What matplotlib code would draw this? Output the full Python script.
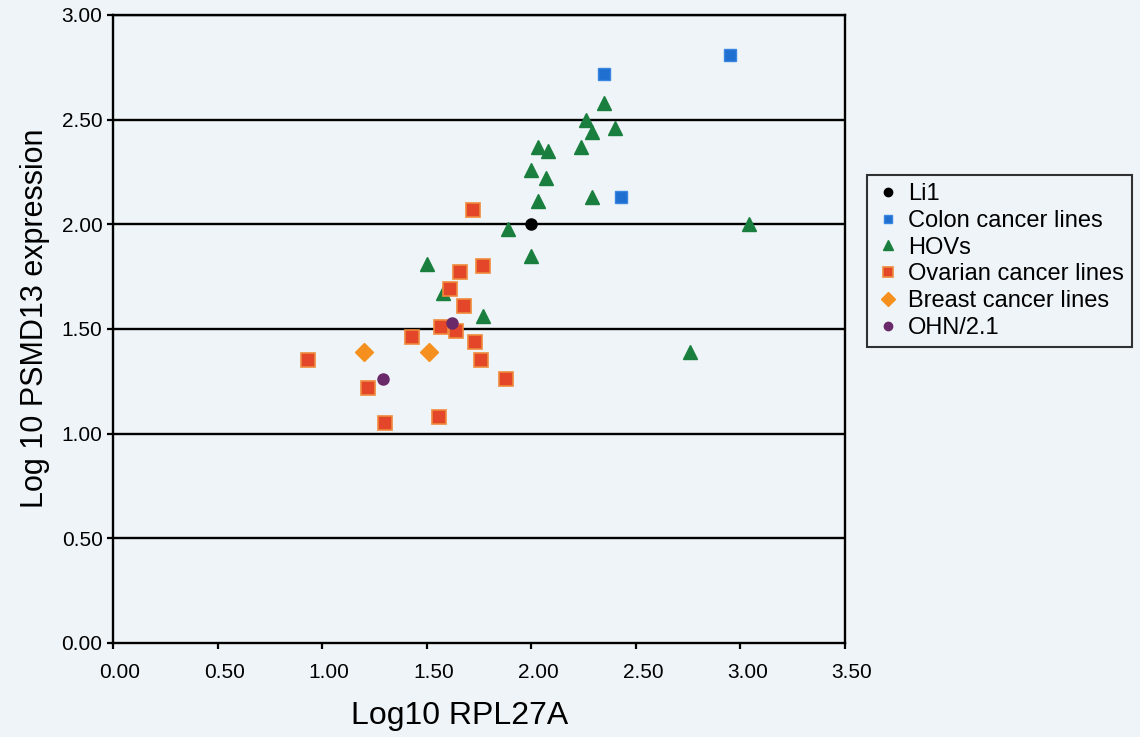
import matplotlib.pyplot as plt
from matplotlib.transforms import ScaledTranslation

plt.rcParams['font.family'] = ['Liberation Sans', 'DejaVu Sans']

# ── Data ─────────────────────────────────────────────────────────────────────
li1_x = [2.00]
li1_y = [2.00]

colon_x = [2.95, 2.35, 2.43]
colon_y = [2.81, 2.72, 2.13]

hov_x = [2.35, 2.26, 2.40, 2.29, 2.24, 2.03, 2.08, 2.00, 2.07, 2.03, 2.29,
         1.89, 3.04, 2.00, 1.50, 1.58, 1.77, 2.76]
hov_y = [2.58, 2.50, 2.46, 2.44, 2.37, 2.37, 2.35, 2.26, 2.22, 2.11, 2.13,
         1.98, 2.00, 1.85, 1.81, 1.67, 1.56, 1.39]

ovarian_x = [1.72, 1.77, 1.66, 1.61, 1.68, 1.57, 1.64, 1.43, 1.73, 0.93,
             1.76, 1.88, 1.22, 1.56, 1.30]
ovarian_y = [2.07, 1.80, 1.77, 1.69, 1.61, 1.51, 1.49, 1.46, 1.44, 1.35,
             1.35, 1.26, 1.22, 1.08, 1.05]

breast_x = [1.20, 1.51]
breast_y = [1.39, 1.39]

ohn_x = [1.62, 1.29]
ohn_y = [1.53, 1.26]

xticks = [0.0, 0.5, 1.0, 1.5, 2.0, 2.5, 3.0, 3.5]
yticks = [0.0, 0.5, 1.0, 1.5, 2.0, 2.5, 3.0]

BG = '#eef4f8'

fig = plt.figure(figsize=(11.4, 7.37), dpi=100, facecolor=BG)
ax = fig.add_axes([113 / 1140, 1 - 643 / 737, 732 / 1140, 628 / 737])
ax.set_facecolor(BG)

for y in yticks[1:]:
    ax.axhline(y, color='black', lw=1.7, zorder=1)

ax.plot(li1_x, li1_y, 'o', ms=8, color='black', label='Li1', zorder=3)
ax.plot(colon_x, colon_y, 's', ms=8.5, color='#1f6fd0', mec='#3a86e0',
        label='Colon cancer lines', zorder=3)
ax.plot(hov_x, hov_y, '^', ms=10, color='#1a7f3e', label='HOVs', zorder=3)
ax.plot(ovarian_x, ovarian_y, 's', ms=9.5, color='#e4462a', mec='#f08a3a',
        mew=1.2, label='Ovarian cancer lines', zorder=3)
ax.plot(breast_x, breast_y, 'D', ms=9, color='#f5901e',
        label='Breast cancer lines', zorder=3)
ax.plot(ohn_x, ohn_y, 'o', ms=8, color='#6a2a6a', label='OHN/2.1', zorder=3)

ax.set_xlim(0, 3.5)
ax.set_ylim(0, 3.0)
ax.set_xticks(xticks)
ax.set_yticks(yticks)
ax.set_xticklabels([f'{t:.2f}' for t in xticks])
ax.set_yticklabels([f'{t:.2f}' for t in yticks])
ax.tick_params(labelsize=15, length=4, width=1.6, direction='out')
ax.tick_params(axis='x', pad=10.5)
ax.tick_params(axis='y', pad=3.5)
shift = ScaledTranslation(7 / 100, 0, fig.dpi_scale_trans)
for lbl in ax.get_xticklabels():
    lbl.set_transform(lbl.get_transform() + shift)
for s in ax.spines.values():
    s.set_linewidth(1.7)

ax.set_xlabel('Log10 RPL27A', fontsize=23)
ax.xaxis.set_label_coords(0.474, -0.092)
ax.xaxis.label.set_verticalalignment('top')
ax.set_ylabel('Log 10 PSMD13 expression', fontsize=22)
ax.yaxis.set_label_coords(-0.086, 0.517)

leg = fig.legend(loc='upper left', bbox_to_anchor=(867 / 1140, 1 - 175 / 737),
                 fontsize=17, frameon=True, fancybox=False, edgecolor='black',
                 facecolor=BG, handlelength=1.1, handletextpad=0.3,
                 labelspacing=0.2, borderpad=0.35, borderaxespad=0,
                 markerscale=0.75)
leg.get_frame().set_linewidth(1.5)

fig.savefig('out.png', dpi=100, facecolor=BG)
